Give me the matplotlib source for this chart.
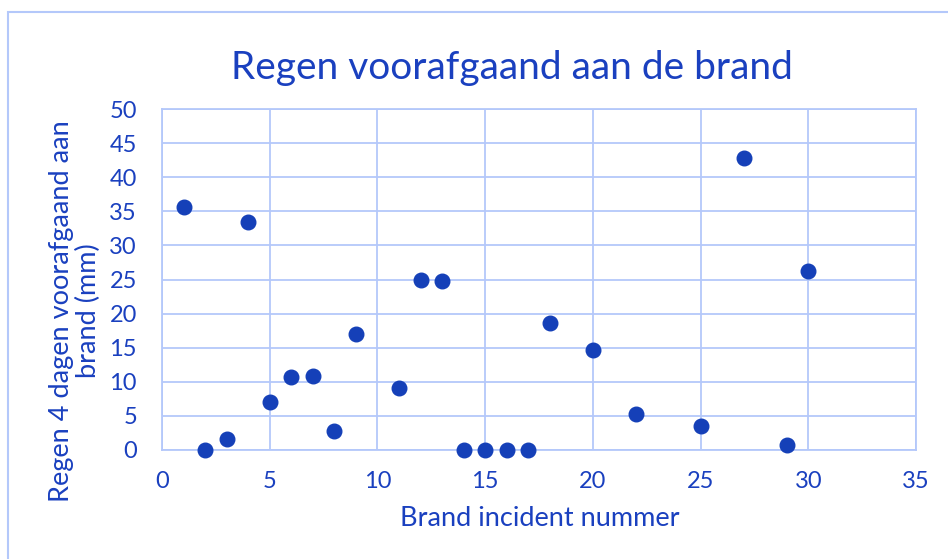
import matplotlib.pyplot as plt
from matplotlib.patches import Rectangle

incident = [1, 2, 3, 4, 5, 6, 7, 8, 9, 11, 12, 13, 14, 15, 16, 17, 18, 20, 22, 25, 27, 29, 30]
regen_mm = [35.6, 0, 1.6, 33.4, 7.0, 10.7, 10.9, 2.8, 17.0, 9.1, 24.9, 24.8,
            0, 0, 0, 0, 18.6, 14.7, 5.3, 3.5, 42.8, 0.7, 26.2]

text_blue = "#1a40bf"
dot_blue = "#1540b8"
grid_blue = "#b4c8fa"

plt.rcParams["font.family"] = ["Lato", "DejaVu Sans"]

fig = plt.figure(figsize=(9.48, 5.59), dpi=100)
ax = fig.add_axes([162 / 948, 1 - 450 / 559, (916 - 162) / 948, (450 - 109) / 559])

fig.patches.append(Rectangle((8 / 948, -0.1), 1.2, 1 - 12 / 559 + 0.1, transform=fig.transFigure,
                             fill=False, edgecolor=grid_blue, linewidth=1.5))

ax.scatter(incident, regen_mm, s=110, color=dot_blue, zorder=3, clip_on=False)

ax.set_xlim(0, 35)
ax.set_ylim(0, 50)
ax.set_xticks(range(0, 36, 5))
ax.set_yticks(range(0, 51, 5))
ax.grid(True, color=grid_blue, linewidth=1.3)
ax.set_axisbelow(True)
for s in ax.spines.values():
    s.set_color(grid_blue)
    s.set_linewidth(1.3)
ax.tick_params(length=0, colors=text_blue, labelsize=17)
ax.tick_params(axis="y", pad=18)
ax.tick_params(axis="x", pad=15)

fig.text(512 / 948, 1 - 68 / 559, "Regen voorafgaand aan de brand", color=text_blue,
         fontsize=28, ha="center", va="center")
fig.text(540 / 948, 1 - 518 / 559, "Brand incident nummer", color=text_blue,
         fontsize=19.5, ha="center", va="center")
fig.text(75 / 948, 1 - 311 / 559, "Regen 4 dagen voorafgaand aan\nbrand (mm)", color=text_blue,
         fontsize=19.5, ha="center", va="center", rotation=90, linespacing=1.05)

fig.savefig("out.png", dpi=100)
